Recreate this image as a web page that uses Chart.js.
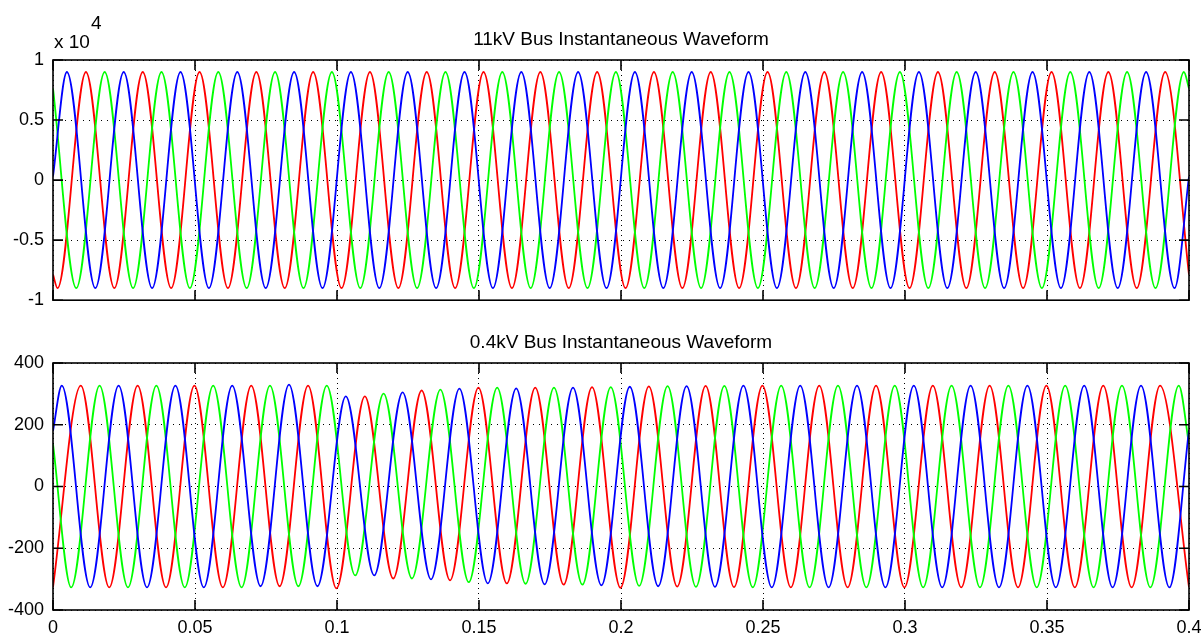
<!DOCTYPE html>
<html>
<head>
<meta charset="utf-8">
<script src="https://cdn.jsdelivr.net/npm/chart.js@4/dist/chart.umd.min.js"></script>
<style>
  body { margin: 0; background: #fff; width: 1204px; height: 633px; overflow: hidden; position: relative; }
  canvas { position: absolute; left: 0; }
  #hv { top: 0; }
  #lv { top: 320px; }
</style>
</head>
<body>
<canvas id="hv" width="1204" height="320"></canvas>
<canvas id="lv" width="1204" height="313"></canvas>
<script>
// tick labels
const timeLabels = ['0', '0.05', '0.1', '0.15', '0.2', '0.25', '0.3', '0.35', '0.4']
const hvLabels = ['-1', '-0.5', '0', '0.5', '1']
const lvLabels = ['-400', '-200', '0', '200', '400']

// 11kV bus: start value, every peak / trough, end value
const hvBlueT = [0, .0049, .0149, .0249, .0349, .0449, .0549, .0649, .0749, .0849, .0949, .1049, .1149, .1249, .1349, .1449, .1549, .1649, .1749, .1849, .1949, .2049, .2149, .2249, .2349, .2449, .2549, .2649, .2749, .2849, .2949, .3049, .3149, .3249, .3349, .3449, .3549, .3649, .3749, .3849, .3949, .4]
const hvBlueV = [300, 9000, -9000, 9000, -9000, 9000, -9000, 9000, -9000, 9000, -9000, 9000, -9000, 9000, -9000, 9000, -9000, 9000, -9000, 9000, -9000, 9000, -9000, 9000, -9000, 9000, -9000, 9000, -9000, 9000, -9000, 9000, -9000, 9000, -9000, 9000, -9000, 9000, -9000, 9000, -9000, 300]
const hvRedT = [0, .0016, .0116, .0216, .0316, .0416, .0516, .0616, .0716, .0816, .0916, .1016, .1116, .1216, .1316, .1416, .1516, .1616, .1716, .1816, .1916, .2016, .2116, .2216, .2316, .2416, .2516, .2616, .2716, .2816, .2916, .3016, .3116, .3216, .3316, .3416, .3516, .3616, .3716, .3816, .3916, .4]
const hvRedV = [-7870, -9000, 9000, -9000, 9000, -9000, 9000, -9000, 9000, -9000, 9000, -9000, 9000, -9000, 9000, -9000, 9000, -9000, 9000, -9000, 9000, -9000, 9000, -9000, 9000, -9000, 9000, -9000, 9000, -9000, 9000, -9000, 9000, -9000, 9000, -9000, 9000, -9000, 9000, -9000, 9000, -7870]
const hvGreenT = [0, .0082, .0182, .0282, .0382, .0482, .0582, .0682, .0782, .0882, .0982, .1082, .1182, .1282, .1382, .1482, .1582, .1682, .1782, .1882, .1982, .2082, .2182, .2282, .2382, .2482, .2582, .2682, .2782, .2882, .2982, .3082, .3182, .3282, .3382, .3482, .3582, .3682, .3782, .3882, .3982, .4]
const hvGreenV = [7630, -9000, 9000, -9000, 9000, -9000, 9000, -9000, 9000, -9000, 9000, -9000, 9000, -9000, 9000, -9000, 9000, -9000, 9000, -9000, 9000, -9000, 9000, -9000, 9000, -9000, 9000, -9000, 9000, -9000, 9000, -9000, 9000, -9000, 9000, -9000, 9000, -9000, 9000, -9000, 9000, 7630]

// 0.4kV bus: sag after 0.1 s, slow recovery
const lvBlueT = [0, .0031, .0131, .0231, .0331, .0431, .0531, .0631, .0731, .0831, .0931, .1031, .1131, .1231, .1331, .1431, .1531, .1631, .1731, .1831, .1931, .2031, .2131, .2231, .2331, .2431, .2531, .2631, .2731, .2831, .2931, .3031, .3131, .3231, .3331, .3431, .3531, .3631, .3731, .3831, .3931, .4]
const lvBlueV = [180, 327, -327, 327, -327, 327, -327, 327, -323, 330, -323, 292, -288, 305, -301, 317, -314, 318, -317, 320, -320, 323, -323, 325, -325, 327, -327, 327, -327, 327, -327, 327, -327, 327, -327, 327, -327, 327, -327, 327, -327, 183]
const lvRedT = [0, .0098, .0198, .0298, .0398, .0498, .0598, .0698, .0798, .0898, .0998, .1098, .1198, .1298, .1398, .1498, .1598, .1698, .1798, .1898, .1998, .2098, .2198, .2298, .2398, .2498, .2598, .2698, .2798, .2898, .2998, .3098, .3198, .3298, .3398, .3498, .3598, .3698, .3798, .3898, .4]
const lvRedV = [-326, 327, -327, 327, -327, 327, -327, 327, -323, 327, -330, 292, -298, 311, -304, 320, -314, 320, -318, 322, -328, 324, -324, 326, -326, 327, -327, 327, -327, 327, -327, 327, -327, 327, -327, 327, -327, 327, -327, 327, -326]
const lvGreenT = [0, .0064, .0164, .0264, .0364, .0464, .0564, .0664, .0764, .0864, .0964, .1064, .1164, .1264, .1364, .1464, .1564, .1664, .1764, .1864, .1964, .2064, .2164, .2264, .2364, .2464, .2564, .2664, .2764, .2864, .2964, .3064, .3164, .3264, .3364, .3464, .3564, .3664, .3764, .3864, .3964, .4]
const lvGreenV = [137, -327, 327, -327, 327, -327, 327, -327, 327, -323, 327, -288, 301, -298, 314, -310, 320, -315, 320, -318, 322, -322, 325, -325, 326, -327, 327, -327, 327, -327, 327, -327, 327, -327, 327, -327, 327, -327, 327, -327, 327, 137]

const FONT = '"Liberation Sans", Arial, sans-serif'

const toPoints = (ts, vs) => ts.map((t, i) => ({ x: t, y: vs[i] }))

// box, inward ticks, title, exponent
const frame = {
    id: 'frame',
    afterDraw(chart, args, opts) {
        const { ctx, chartArea: a, scales: { x, y } } = chart
        ctx.save()
        ctx.strokeStyle = '#000'
        ctx.lineWidth = 1.6
        ctx.strokeRect(a.left, a.top, a.right - a.left, a.bottom - a.top)
        ctx.beginPath()
        x.ticks.forEach(t => {
            const px = x.getPixelForValue(t.value)
            ctx.moveTo(px, a.top); ctx.lineTo(px, a.top + 10)
            ctx.moveTo(px, a.bottom); ctx.lineTo(px, a.bottom - 10)
        })
        y.ticks.forEach(t => {
            const py = y.getPixelForValue(t.value)
            ctx.moveTo(a.left, py); ctx.lineTo(a.left + 10, py)
            ctx.moveTo(a.right, py); ctx.lineTo(a.right - 10, py)
        })
        ctx.stroke()

        ctx.fillStyle = '#000'
        ctx.textAlign = 'center'
        ctx.textBaseline = 'middle'
        ctx.font = '19px ' + FONT
        ctx.fillText(opts.title, (a.left + a.right) / 2, a.top - 20)
        if (opts.exponent) {
            ctx.textAlign = 'left'
            ctx.fillText('x 10', a.left + 1, a.top - 17)
            ctx.fillText(opts.exponent, a.left + 38, a.top - 36)
        }
        ctx.restore()
    }
}

function makeChart(id, series, yMin, yMax, yStep, yLabels, opts) {
    const colors = ['#0000ff', '#00ff00', '#ff0000']
    return new Chart(document.getElementById(id), {
        type: 'line',
        data: {
            datasets: series.map((s, i) => ({
                data: s,
                borderColor: colors[i],
                borderWidth: 1.8,
                pointRadius: 0,
                cubicInterpolationMode: 'monotone',
                fill: false
            }))
        },
        options: {
            responsive: false,
            animation: false,
            events: [],
            layout: { padding: opts.padding },
            plugins: {
                legend: { display: false },
                tooltip: { enabled: false },
                frame: { title: opts.title, exponent: opts.exponent }
            },
            scales: {
                x: {
                    type: 'linear',
                    min: 0,
                    max: 0.4,
                    grid: { color: '#000', lineWidth: 1, drawTicks: false },
                    border: { display: false, dash: [1, 4] },
                    ticks: {
                        display: opts.showX,
                        stepSize: 0.05,
                        autoSkip: false,
                        maxRotation: 0,
                        padding: 7,
                        color: '#000',
                        font: { family: FONT, size: 18 },
                        callback: (v, i) => timeLabels[i]
                    },
                    afterFit: s => {
                        s.height = opts.xHeight
                        s.paddingLeft = 0
                        s.paddingRight = 0
                    }
                },
                y: {
                    min: yMin,
                    max: yMax,
                    grid: { color: '#000', lineWidth: 1, drawTicks: false },
                    border: { display: false, dash: [1, 5] },
                    ticks: {
                        stepSize: yStep,
                        padding: 9,
                        color: '#000',
                        font: { family: FONT, size: 18 },
                        callback: (v, i) => yLabels[i]
                    },
                    afterFit: s => { s.width = 53 }
                }
            }
        },
        plugins: [frame]
    })
}

const hvChart = makeChart('hv', [toPoints(hvBlueT, hvBlueV), toPoints(hvGreenT, hvGreenV), toPoints(hvRedT, hvRedV)],
    -10000, 10000, 5000, hvLabels,
    { title: '11kV Bus Instantaneous Waveform', exponent: '4', showX: false, xHeight: 0,
      padding: { top: 60, right: 15, bottom: 13, left: 0 } })

const lvChart = makeChart('lv', [toPoints(lvBlueT, lvBlueV), toPoints(lvGreenT, lvGreenV), toPoints(lvRedT, lvRedV)],
    -400, 400, 200, lvLabels,
    { title: '0.4kV Bus Instantaneous Waveform', showX: true, xHeight: 23,
      padding: { top: 43, right: 15, bottom: 0, left: 0 } })
</script>
</body>
</html>
